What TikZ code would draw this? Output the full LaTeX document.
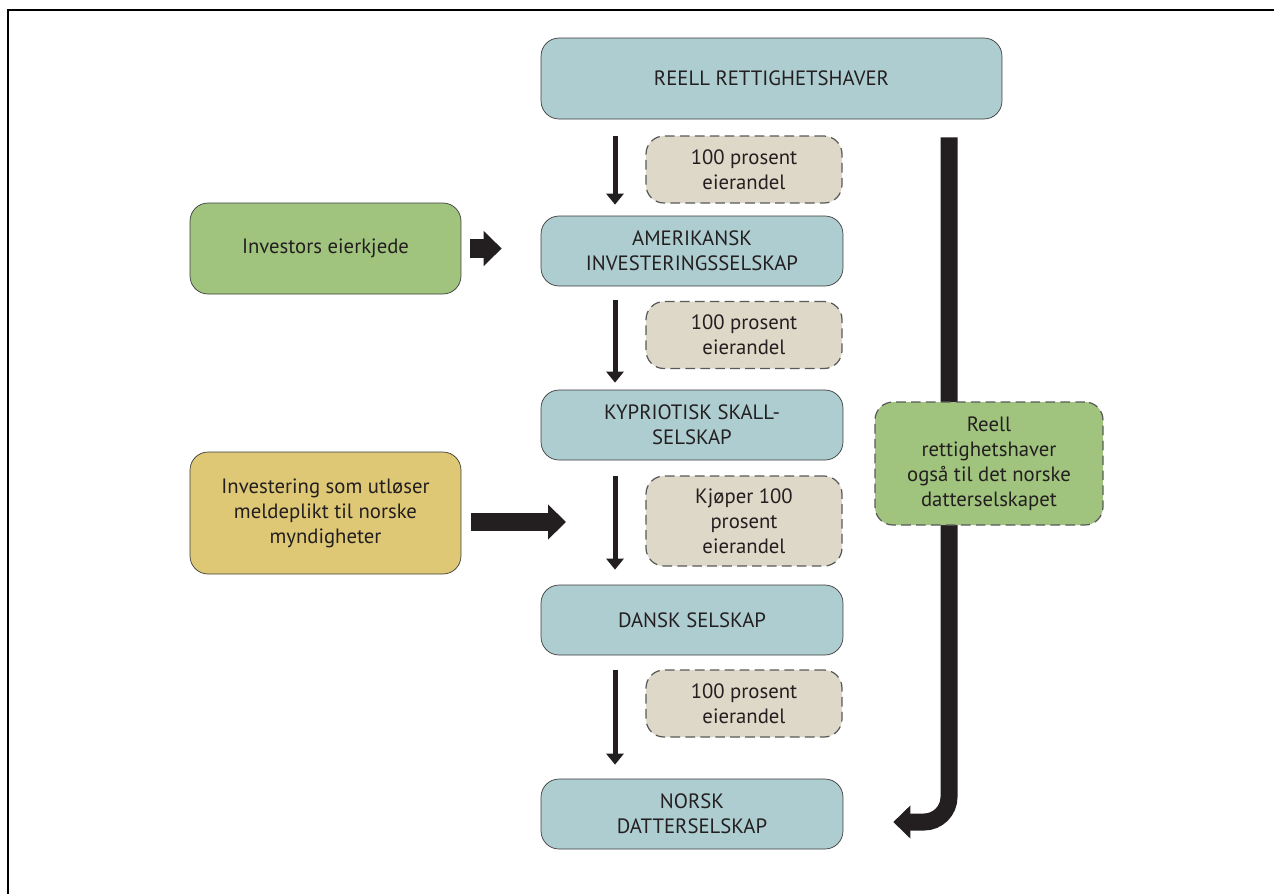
\documentclass[tikz,border=0pt]{standalone}
\usepackage{fontspec}
\setmainfont{PT Sans}
\usetikzlibrary{arrows.meta,positioning,calc}

\definecolor{boxteal}{RGB}{174,205,208}
\definecolor{boxgreen}{RGB}{160,196,125}
\definecolor{boxyellow}{RGB}{222,200,117}
\definecolor{boxbeige}{RGB}{222,216,200}
\definecolor{boxline}{RGB}{60,60,60}
\definecolor{ink}{RGB}{35,31,32}

\begin{document}
\begin{tikzpicture}[
    x=0.02cm, y=-0.02cm,
    company/.style={rectangle, draw=boxline, fill=boxteal, rounded corners=0.36cm,
                minimum width=6.04cm, minimum height=1.4cm, align=center,
                text=ink, font=\fontsize{11.8}{14.2}\selectfont},
    share/.style={rectangle, draw=boxline!85, fill=boxbeige, rounded corners=0.36cm,
                line width=0.7pt, dash pattern=on 5.5pt off 3pt, minimum width=3.92cm,
                minimum height=1.34cm, align=center, text=ink, font=\fontsize{11.8}{14.2}\selectfont},
    note/.style={rectangle, draw=boxline, rounded corners=0.36cm, minimum width=5.42cm,
                align=center, text=ink, font=\fontsize{11.8}{14.2}\selectfont},
    down/.style={-{Triangle[width=0.34cm,length=0.22cm]}, line width=0.1cm, draw=ink},
    fat/.style={-{Triangle[width=0.68cm,length=0.36cm]}, line width=0.37cm, draw=ink},
    owner/.style={-{Triangle[width=0.64cm,length=0.34cm]}, line width=0.34cm, draw=ink,
                rounded corners=0.5cm}
]
    \useasboundingbox (0,0) rectangle (1274,894);
    \draw[line width=1pt] (8,894) -- (8,10) -- (1274,10);

    % the chain of companies
    \node[company, minimum width=9.22cm, minimum height=1.62cm] (reell) at (771.5,78.5) {REELL RETTIGHETSHAVER};
    \node[company] (amer) at (692,251) {AMERIKANSK\\INVESTERINGSSELSKAP};
    \node[company] (kypr) at (692,425) {KYPRIOTISK SKALL-\\SELSKAP};
    \node[company] (dansk) at (692,620) {DANSK SELSKAP};
    \node[company] (norsk) at (692,814) {NORSK\\DATTERSELSKAP};

    % ownership shares
    \node[share] (share1) at (744,169.5) {100 prosent\\eierandel};
    \node[share] (share2) at (744,335) {100 prosent\\eierandel};
    \node[share, minimum height=1.8cm] (share3) at (744,521) {Kjøper 100\\prosent\\eierandel};
    \node[share] (share4) at (744,703.5) {100 prosent\\eierandel};

    \coordinate (col) at (615,0);
    \draw[down, shorten <=0.34cm, shorten >=0.22cm] (reell.south -| col) -- (amer.north -| col);
    \draw[down, shorten <=0.28cm, shorten >=0.14cm] (amer.south -| col) -- (kypr.north -| col);
    \draw[down, shorten <=0.32cm, shorten >=0.3cm] (kypr.south -| col) -- (dansk.north -| col);
    \draw[down, shorten <=0.3cm, shorten >=0.28cm] (dansk.south -| col) -- (norsk.north -| col);

    % side notes
    \node[note, fill=boxgreen, minimum height=1.82cm] (chain) at (325.5,248.5) {Investors eierkjede};
    \node[note, fill=boxyellow, minimum height=2.44cm] (invest) at (325.5,513) {Investering som utløser\\meldeplikt til norske\\myndigheter};

    \draw[fat, shorten <=0.18cm, shorten >=0.78cm] (chain.east) -- (chain.east -| amer.west);
    \coordinate (buy) at (615,522);
    \draw[fat, shorten <=0.2cm, shorten >=0.98cm] (invest.east |- buy) -- (buy);

    % the real owner of the norwegian subsidiary
    \coordinate (turn) at (949,822);
    \draw[owner, shorten <=0.36cm, shorten >=1.0cm] (reell.south -| turn) -- (turn) -- (norsk.east |- turn);
    \node[share, fill=boxgreen, minimum width=4.56cm, minimum height=2.46cm] (alsoowner) at (989,463.5)
        {Reell\\rettighetshaver\\også til det norske\\datterselskapet};
\end{tikzpicture}
\end{document}
